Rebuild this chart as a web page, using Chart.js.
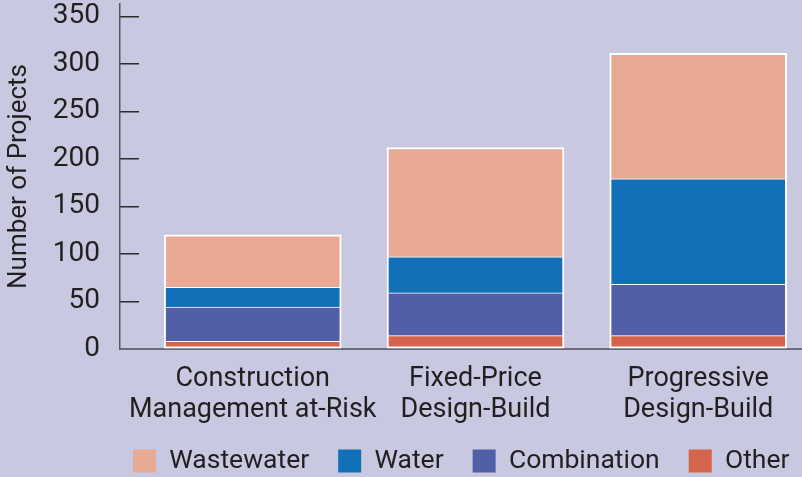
<!DOCTYPE html>
<html>
<head>
<meta charset="utf-8">
<script src="https://cdn.jsdelivr.net/npm/chart.js@4.4.1/dist/chart.umd.min.js"></script>
<style>
  html, body { margin: 0; padding: 0; background: #c8c8e0; }
  #wrap { width: 802px; height: 477px; position: relative; }
</style>
</head>
<body>
<div id="wrap"><canvas id="projectsChart"></canvas></div>
<script>
// values
const categories = [
  ['Construction', 'Management at-Risk'],
  ['Fixed-Price', 'Design-Build'],
  ['Progressive', 'Design-Build'],
];
const other = [8, 14, 14];
const combination = [36, 45, 54];
const water = [21, 38, 111];
const wastewater = [55, 115, 132];
const yTicks = [0, 50, 100, 150, 200, 250, 300, 350];

const textColor = '#231f20';
const fontFamily = 'Roboto, "Liberation Sans", Arial, sans-serif';

// bars sit on a linear x scale, one unit per category
const toPoints = vals => vals.map((v, i) => ({ x: i + 1, y: v }));

const side = { left: 2, right: 2 };
const makeSet = (label, vals, color, bw) => ({
  label: label,
  data: toPoints(vals),
  backgroundColor: color,
  borderColor: '#ffffff',
  borderWidth: Object.assign({}, side, bw),
  borderSkipped: false,
  barThickness: 177,
});

// move the legend row under the plot area, like the original
const legendShift = {
  id: 'legendShift',
  afterLayout(chart) {
    const lg = chart.legend;
    if (!lg || !lg.lineWidths) return;
    const p = lg.options.labels.padding;
    const cur = ((lg.left + p) + (lg.right - lg.lineWidths[0])) / 2;
    const dx = 133 - cur;
    lg.left += dx;
    lg.right += dx;
    lg.top = 461 - p - 13.25;
    lg.bottom = chart.height;
  },
};

const ctx = document.getElementById('projectsChart').getContext('2d');
new Chart(ctx, {
  type: 'bar',
  data: {
    datasets: [
      makeSet('Other', other, '#d6634b', { top: 1, bottom: 2 }),
      makeSet('Combination', combination, '#535ea8', { top: 1, bottom: 0 }),
      makeSet('Water', water, '#1170b8', { top: 1, bottom: 0 }),
      makeSet('Wastewater', wastewater, '#e8aa92', { top: 2, bottom: 0 }),
    ],
  },
  options: {
    responsive: true,
    maintainAspectRatio: false,
    animation: false,
    layout: { padding: { top: 4, left: 0, right: 0, bottom: 0 } },
    plugins: {
      tooltip: { enabled: false },
      legend: {
        position: 'bottom',
        reverse: true,
        maxHeight: 30,
        labels: {
          boxWidth: 23,
          boxHeight: 23,
          padding: 29,
          color: textColor,
          font: { family: fontFamily, size: 26.5 },
          generateLabels: chart =>
            Chart.defaults.plugins.legend.labels.generateLabels(chart).map(l => ({
              ...l, lineWidth: 0, strokeStyle: 'rgba(0,0,0,0)',
            })),
        },
      },
    },
    scales: {
      x: {
        type: 'linear',
        stacked: true,
        offset: false,
        min: 0.404,
        max: 3.466,
        grid: { drawOnChartArea: false, drawTicks: false, offset: false },
        border: { color: '#6b6b7d', width: 2 },
        afterBuildTicks: s => { s.ticks = categories.map((c, i) => ({ value: i + 1 })); },
        afterFit: s => { s.height = 98; s.paddingLeft = 0; s.paddingRight = 0; },
        ticks: {
          padding: 14.5,
          color: textColor,
          font: { family: fontFamily, size: 27, lineHeight: 1.15 },
          maxRotation: 0,
          autoSkip: false,
          callback: v => categories[v - 1],
        },
      },
      y: {
        stacked: true,
        min: 0,
        max: 363,
        grid: {
          drawOnChartArea: false,
          drawTicks: true,
          tickLength: -19,
          color: '#2b2b2b',
          lineWidth: 1.5,
        },
        border: { color: '#55555f', width: 1.5 },
        afterBuildTicks: s => { s.ticks = yTicks.map(v => ({ value: v })); },
        afterFit: s => { s.width = 120; s.paddingTop = 0; s.paddingBottom = 0; },
        ticks: {
          padding: 39,
          color: textColor,
          font: { family: fontFamily, size: 28 },
        },
        title: {
          display: true,
          text: 'Number of Projects',
          color: textColor,
          font: { family: fontFamily, size: 26 },
        },
      },
    },
  },
  plugins: [legendShift],
});
</script>
</body>
</html>
